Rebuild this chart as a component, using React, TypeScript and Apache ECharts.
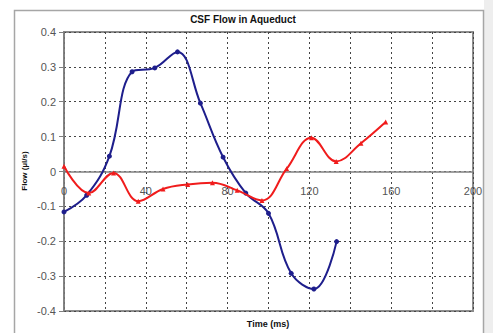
import React, { useEffect, useRef } from "react";
import * as echarts from "echarts";

const blueX = [0, 11.1, 22.2, 33.3, 44.4, 55.5, 66.7, 77.8, 88.9, 100, 111.1, 122.2, 133.3];
const blueY = [-0.116, -0.068, 0.044, 0.286, 0.297, 0.343, 0.196, 0.041, -0.062, -0.12, -0.292, -0.337, -0.201];
const redX = [0, 12.1, 24.2, 36.3, 48.4, 60.5, 72.6, 84.7, 96.8, 108.9, 121, 133.1, 145.2, 157.3];
const redY = [0.015, -0.062, -0.004, -0.085, -0.05, -0.037, -0.032, -0.054, -0.083, 0.008, 0.097, 0.029, 0.081, 0.142];

const title = "CSF Flow in Aqueduct";
const xName = "Time (ms)";
const yName = "Flow (µl/s)";

export default function App() {
  const ref = useRef<HTMLDivElement>(null);
  useEffect(() => {
    document.body.style.margin = "0";
    const chart = echarts.init(ref.current!, null, { renderer: "svg" });
    const font = "'Liberation Sans', Arial, sans-serif";
    const gridTop = 32;
    const gridBottom = 22;
    const plotH = 333 - gridTop - gridBottom;
    chart.setOption({
      animation: false,
      backgroundColor: "#ffffff",
      grid: {
        left: 64,
        right: 20,
        top: gridTop,
        bottom: gridBottom,
        show: true,
        borderColor: "#8c8c8c",
        borderWidth: 2,
        backgroundColor: "transparent",
      },
      xAxis: {
        type: "value",
        min: 0,
        max: 200,
        interval: 20,
        offset: -plotH / 2,
        axisLine: { onZero: false, lineStyle: { color: "#808080", width: 1.5 } },
        axisTick: { show: false },
        axisLabel: {
          margin: 14,
          color: "#555",
          fontSize: 11,
          fontFamily: font,
          formatter: (v: number) => (v % 40 === 0 ? String(v) : ""),
        },
        splitLine: { show: true, lineStyle: { color: "#444", type: [2, 3], width: 1 } },
      },
      yAxis: {
        type: "value",
        min: -0.4,
        max: 0.4,
        interval: 0.1,
        axisLine: { show: true, onZero: false, lineStyle: { color: "#808080", width: 1.5 } },
        axisTick: { show: true, length: 5, lineStyle: { color: "#808080" } },
        axisLabel: {
          margin: 8,
          color: "#555",
          fontSize: 11,
          fontFamily: font,
          formatter: (v: number) => {
            const r = Math.round(v * 10) / 10;
            return r === 0 ? "0" : String(r);
          },
        },
        splitLine: { show: true, lineStyle: { color: "#444", type: [2, 3], width: 1 } },
      },
      series: [
        {
          type: "line",
          data: blueX.map((x, i) => [x, blueY[i]]),
          smooth: 0.4,
          symbol: "circle",
          symbolSize: 5,
          lineStyle: { color: "#1e1e8c", width: 2 },
          itemStyle: { color: "#1e1e8c" },
          z: 3,
        },
        {
          type: "line",
          data: redX.map((x, i) => [x, redY[i]]),
          smooth: 0.4,
          symbol: "triangle",
          symbolSize: 5,
          lineStyle: { color: "#f01c1c", width: 2 },
          itemStyle: { color: "#f01c1c" },
          z: 4,
        },
      ],
      graphic: [
        {
          type: "rect",
          left: 484,
          top: 0,
          shape: { width: 9, height: 333 },
          style: { fill: "#eeeeee" },
          silent: true,
        },
        {
          type: "rect",
          shape: { x: 14.5, y: 10.5, width: 469, height: 330 },
          style: { fill: "none", stroke: "#a6a6a6", lineWidth: 1.5 },
          silent: true,
        },
        {
          type: "text",
          x: 243,
          y: 19,
          style: {
            text: title,
            fontSize: 10,
            fontWeight: "bold",
            fontFamily: font,
            fill: "#111",
            align: "center",
            verticalAlign: "middle",
          },
        },
        {
          type: "text",
          x: 268,
          y: 324,
          style: {
            text: xName,
            fontSize: 9,
            fontWeight: "bold",
            fontFamily: font,
            fill: "#111",
            align: "center",
            verticalAlign: "middle",
          },
        },
        {
          type: "text",
          x: 24,
          y: 171,
          rotation: Math.PI / 2,
          style: {
            text: yName,
            fontSize: 8,
            fontWeight: "bold",
            fontFamily: font,
            fill: "#111",
            align: "center",
            verticalAlign: "middle",
          },
        },
      ],
    });
    return () => chart.dispose();
  }, []);
  return <div ref={ref} style={{ width: 493, height: 333 }} />;
}
